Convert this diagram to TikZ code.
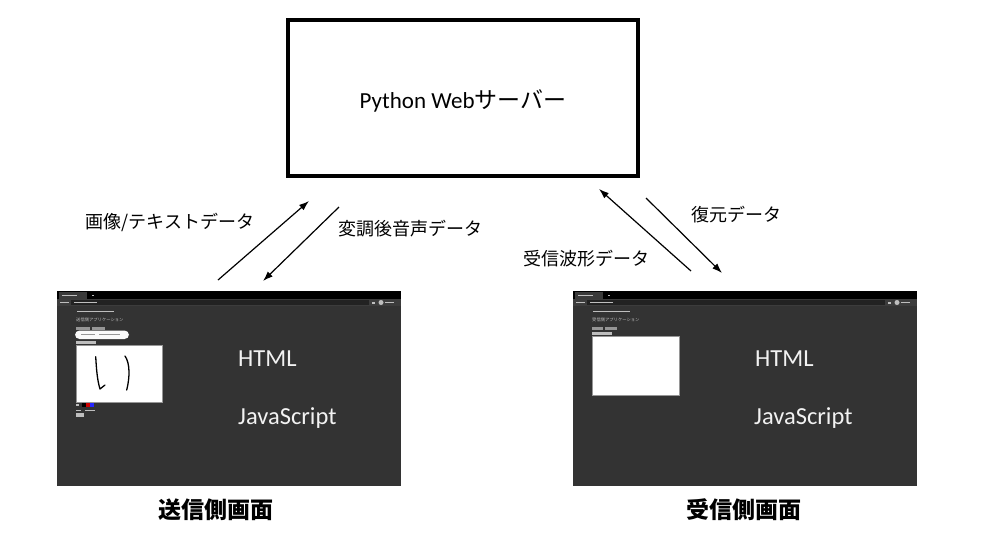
\documentclass[tikz,border=0pt]{standalone}
\usepackage{fontspec}
\setmainfont{Carlito}
\newfontfamily\jp{Noto Sans CJK JP}
\usetikzlibrary{arrows.meta}
\definecolor{scrbg}{RGB}{51,51,51}
\definecolor{addrbg}{RGB}{60,60,60}
\definecolor{urlbg}{RGB}{34,34,34}
\definecolor{tabbg}{RGB}{58,58,58}
\definecolor{uitext}{RGB}{190,190,190}
\definecolor{btngray}{RGB}{150,150,150}
\definecolor{bigtext}{RGB}{242,242,242}
\tikzset{
  serverbox/.style={draw=black, line width=3.5pt, minimum width=350pt, minimum height=156pt, inner sep=0pt, fill=white},
  lbl/.style={font=\jp\fontsize{18}{22}\selectfont, inner sep=0pt},
  caption/.style={font=\jp\bfseries\fontsize{23}{28}\selectfont, inner sep=0pt},
  flow/.style={line width=1.2pt, -{Latex[length=10pt,width=7pt]}},
  screen/.style={fill=scrbg, draw=none, minimum width=344pt, minimum height=195pt, inner sep=0pt, anchor=north west},
  bigword/.style={font=\fontsize{24.5}{28}\selectfont, text=bigtext, anchor=base west, inner sep=0pt},
  tinyjp/.style={font=\jp\fontsize{4.3}{5}\selectfont, text=uitext, anchor=west, inner sep=0pt},
  uibar/.style={fill=uitext},
  btn/.style={fill=btngray},
  canvasbox/.style={fill=white, draw=btngray, line width=0.6pt},
  ink/.style={line width=1.3pt, line cap=round, line join=round, black}
}
\begin{document}
\begin{tikzpicture}[x=1pt,y=-1pt]
\useasboundingbox (0,0) rectangle (1000,550);
\fill[white] (0,0) rectangle (1000,550);

% server
\node[serverbox] (server) at (463,98) {};
\node[inner sep=0pt, font=\fontsize{23}{28}\selectfont] (servertxt) at (463,101) {Python Web{\jp サーバー}};

% screens
\node[screen] (send) at (57,291) {};
\node[screen] (recv) at (573,291) {};

% sender screen details
\begin{scope}[shift={(57,291)}]
  \fill[black] (0,0) rectangle (344,8);
  \fill[tabbg] (2,1) rectangle (30,8);
  \fill[uitext] (5,3.8) rectangle (20,5.2);
  \fill[uitext] (35,3.8) rectangle (37,5.2);
  \fill[addrbg] (0,8) rectangle (344,15);
  \fill[uitext] (3,10.8) rectangle (12,12.2);
  \fill[urlbg] (14,9.3) rectangle (312,13.7);
  \fill[uitext] (17,10.8) rectangle (40,12.2);
  \fill[uitext] (315,10.5) rectangle (318,12.5);
  \fill[uitext] (324,11.5) circle (2.5);
  \fill[uitext] (328,10.9) rectangle (337,12.1);
  \fill[uitext] (20,19.5) rectangle (57,21);
  \node[tinyjp] (sendhead) at (19,29) {送信側アプリケーション};
  \fill[btn] (19,35.5) rectangle (33,39);
  \fill[btn] (35,35.5) rectangle (48,39);
  \fill[white!95!gray, rounded corners=4.5pt] (18,39.5) rectangle (72,48);
  \fill[btngray] (24,43.2) rectangle (38,44.3);
  \fill[btngray] (42,43.4) rectangle (63,44.1);
  \fill[uitext] (19,49.5) rectangle (39,53);
  \draw[canvasbox] (19,54) rectangle (105,111);
  \draw[ink] (38.7,65.7) .. controls (39.5,78) and (40,88) .. (43,98) -- (48,94);
  \draw[ink] (68,65) .. controls (73,72) and (73,86) .. (69.7,99);
  \fill[uitext] (19,113) rectangle (22,115);
  \fill[black] (25,112) rectangle (29,116);
  \fill[red!80!black] (29,112) rectangle (33,116);
  \fill[blue!85!white] (33,112) rectangle (37,116);
  \fill[uitext] (19,118.5) rectangle (24,120);
  \fill[uitext] (28,118.5) rectangle (38,120);
  \fill[uitext] (19,122) rectangle (27,125.5);
\end{scope}

% receiver screen details
\begin{scope}[shift={(573,291)}]
  \fill[black] (0,0) rectangle (344,8);
  \fill[tabbg] (2,1) rectangle (30,8);
  \fill[uitext] (5,3.8) rectangle (20,5.2);
  \fill[uitext] (35,3.8) rectangle (37,5.2);
  \fill[addrbg] (0,8) rectangle (344,15);
  \fill[uitext] (3,10.8) rectangle (12,12.2);
  \fill[urlbg] (14,9.3) rectangle (312,13.7);
  \fill[uitext] (17,10.8) rectangle (40,12.2);
  \fill[uitext] (315,10.5) rectangle (318,12.5);
  \fill[uitext] (324,11.5) circle (2.5);
  \fill[uitext] (328,10.9) rectangle (337,12.1);
  \fill[uitext] (20,19.5) rectangle (57,21);
  \node[tinyjp] (recvhead) at (19,29) {受信側アプリケーション};
  \fill[btn] (19,35.5) rectangle (30,39);
  \fill[btn] (32,35.5) rectangle (44,39);
  \fill[uitext] (19,41) rectangle (39,44);
  \draw[canvasbox] (19,45) rectangle (106,104);
\end{scope}

% big words
\node[bigword] (sendhtml) at (238,366) {HTML};
\node[bigword] (sendjs) at (238,424) {JavaScript};
\node[bigword] (recvhtml) at (755,366) {HTML};
\node[bigword] (recvjs) at (754,424) {JavaScript};

% arrow endpoints
\coordinate (a1s) at (218,280);
\coordinate (a1e) at (309,201);
\coordinate (a2s) at (339,207);
\coordinate (a2e) at (263,281);
\coordinate (a3s) at (691,271);
\coordinate (a3e) at (599,189);
\coordinate (a4s) at (646,198);
\coordinate (a4e) at (722,273);
\draw[flow] (a1s) -- (a1e);
\draw[flow] (a2s) -- (a2e);
\draw[flow] (a3s) -- (a3e);
\draw[flow] (a4s) -- (a4e);

% labels
\node[lbl] (l1) at (170,222) {画像/テキストデータ};
\node[lbl] (l2) at (410,229) {変調後音声データ};
\node[lbl] (l3) at (736,215) {復元データ};
\node[lbl] (l4) at (586,259) {受信波形データ};

\node[caption] (c1) at (216,510) {送信側画面};
\node[caption] (c2) at (744,510) {受信側画面};
\end{tikzpicture}
\end{document}
